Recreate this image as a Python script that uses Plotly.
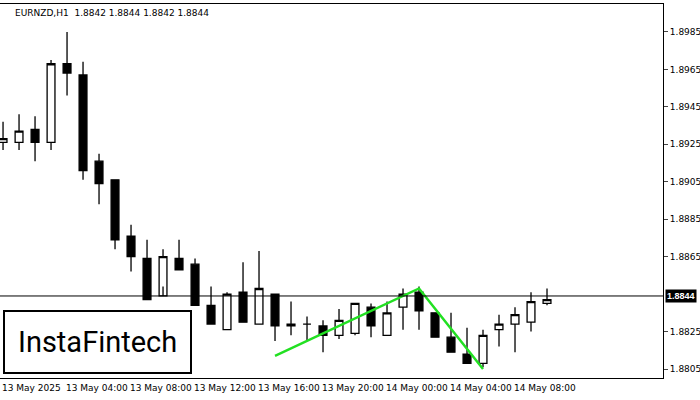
import plotly.graph_objects as go

# candle index -> OHLC (EURNZD H1, 13-14 May 2025)
opens = [1.8926, 1.8926, 1.8933, 1.8926, 1.8968, 1.8962, 1.8916, 1.8906, 1.8876, 1.8864, 1.8844,
         1.8864, 1.8861, 1.8839, 1.8826, 1.8846, 1.8829, 1.8845, 1.8828, 1.8829, 1.8828, 1.8823,
         1.8824, 1.8838, 1.8823, 1.8838, 1.8846, 1.8835, 1.8822, 1.8813, 1.8808, 1.8826, 1.8829,
         1.8830, 1.8840]
highs = [1.8937, 1.8941, 1.8940, 1.8970, 1.8985, 1.8969, 1.8920, 1.8906, 1.8882, 1.8874, 1.8869,
         1.8874, 1.8864, 1.8849, 1.8846, 1.8862, 1.8868, 1.8845, 1.8841, 1.8833, 1.8831, 1.8837,
         1.8840, 1.8840, 1.8841, 1.8848, 1.8849, 1.8835, 1.8835, 1.8827, 1.8826, 1.8834, 1.8838,
         1.8846, 1.8848]
lows = [1.8922, 1.8922, 1.8916, 1.8922, 1.8951, 1.8906, 1.8893, 1.8869, 1.8857, 1.8852, 1.8849,
        1.8863, 1.8849, 1.8830, 1.8826, 1.8830, 1.8829, 1.8820, 1.8823, 1.8820, 1.8814, 1.8821,
        1.8823, 1.8822, 1.8823, 1.8826, 1.8826, 1.8827, 1.8814, 1.8811, 1.8806, 1.8817, 1.8814,
        1.8825, 1.8839]
closes = [1.8928, 1.8932, 1.8926, 1.8968, 1.8963, 1.8911, 1.8904, 1.8874, 1.8865, 1.8842, 1.8865,
          1.8858, 1.8839, 1.8829, 1.8845, 1.8830, 1.8848, 1.8828, 1.8829, 1.8829, 1.8823, 1.8831,
          1.8840, 1.8828, 1.8835, 1.8845, 1.8836, 1.8822, 1.8814, 1.8808, 1.8823, 1.8829, 1.8834,
          1.8841, 1.8842]
last_price = 1.8844

# pattern line (candle index, price)
pat_x = [17, 26, 30]
pat_y = [1.8812, 1.8848, 1.8805]

yticks = [1.8805, 1.8825, 1.8865, 1.8885, 1.8905, 1.8925, 1.8945, 1.8965, 1.8985]
xlabels = ["13 May 2025", "13 May 04:00", "13 May 08:00", "13 May 12:00", "13 May 16:00",
           "13 May 20:00", "14 May 00:00", "14 May 04:00", "14 May 08:00"]
xlabel_pos = [0, 4, 8, 12, 16, 20, 24, 28, 32]

X0, X1 = -0.19, 41.25

idx = list(range(len(opens)))
fig = go.Figure()
fig.add_trace(go.Candlestick(
    x=idx, open=opens, high=highs, low=lows, close=closes,
    increasing=dict(fillcolor="white", line=dict(color="black", width=1.3)),
    decreasing=dict(fillcolor="black", line=dict(color="black", width=1.3)),
    whiskerwidth=0, showlegend=False, hoverinfo="skip"))
fig.add_trace(go.Scatter(x=pat_x, y=pat_y, mode="lines",
                         line=dict(color="#22e022", width=2.5), showlegend=False))
fig.add_hline(y=last_price, line=dict(color="black", width=1))

for p, t in zip(xlabel_pos, xlabels):
    fig.add_annotation(x=(p - X0) / (X1 - X0), xref="paper", y=0, yref="paper",
                       yanchor="top", xanchor="left", text=t, xshift=-3,
                       showarrow=False, font=dict(size=9, color="black"), yshift=-3)

fig.add_annotation(x=1, xref="paper", xanchor="left", y=last_price, text="<b>1.8844</b>",
                   showarrow=False, bgcolor="black",
                   font=dict(color="white", size=9, family="Liberation Sans"),
                   xshift=2, borderpad=1)
fig.add_annotation(x=0.02, xref="paper", y=1, yref="paper", xanchor="left", yanchor="top",
                   text="EURNZD,H1  1.8842 1.8844 1.8842 1.8844", showarrow=False,
                   font=dict(size=9, color="black"), yshift=-2)
fig.add_annotation(x=0.005, xref="paper", y=0.01, yref="paper", xanchor="left", yanchor="bottom",
                   text="InstaFintech", showarrow=False, bgcolor="white",
                   bordercolor="black", borderwidth=2, borderpad=13,
                   font=dict(size=29, color="black", family="Roboto"))

fig.update_xaxes(range=[X0, X1], showgrid=False, showticklabels=False,
                 rangeslider_visible=False, showline=True, linecolor="black", mirror=True,
                 zeroline=False)
fig.update_yaxes(range=[1.88002, 1.89999], side="right", tickvals=yticks,
                 ticktext=[f"{v:.4f}" for v in yticks], ticks="outside", ticklen=4,
                 tickfont=dict(size=9, color="black"), showgrid=False, showline=True,
                 linecolor="black", mirror=True, zeroline=False)
fig.update_layout(width=700, height=400,
                  margin=dict(l=0, r=37, t=4, b=22, autoexpand=False),
                  plot_bgcolor="white", paper_bgcolor="white",
                  font=dict(family="DejaVu Sans"))
# drop the browser's default 8px page margin
fig.write_html("out.html", config={"displayModeBar": False},
               post_script="document.body.style.margin='0';")
